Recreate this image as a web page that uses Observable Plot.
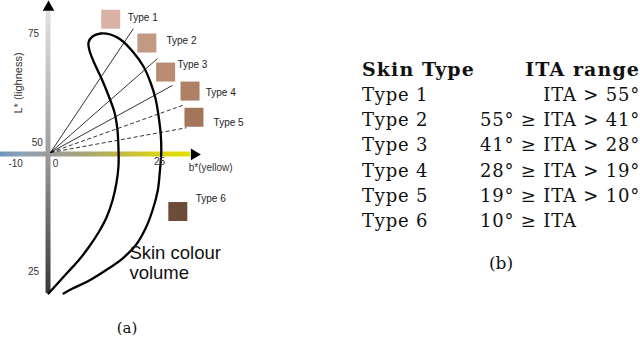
<!DOCTYPE html>
<html>
<head>
<meta charset="utf-8">
<script src="https://cdn.jsdelivr.net/npm/d3@7"></script>
<script src="https://cdn.jsdelivr.net/npm/@observablehq/plot@0.6"></script>
<style>
  body { margin: 0; background: #fff; }
  #wrap { position: relative; width: 640px; height: 341px; overflow: hidden; background: #fff; }
  #chart { position: absolute; left: 0; top: 0; }
  .serif { font-family: "DejaVu Serif", "Liberation Serif", serif; color: #111; }
  .cell { position: absolute; white-space: pre; font-size: 18px; height: 24px; line-height: 24px; letter-spacing: 0.8px; }
  .cell.head { font-size: 19px; letter-spacing: 1.1px; font-weight: bold; }
  .cap { position: absolute; transform: translate(-50%, -50%); white-space: nowrap; }
</style>
</head>
<body>
<div id="wrap">
  <div id="chart"></div>
  <div id="capA" class="cap serif" style="left:127px; top:328px; font-size:15px;">(a)</div>
  <div id="table" class="serif"></div>
  <div id="capB" class="cap serif" style="left:501px; top:263px; font-size:17px;">(b)</div>
</div>
<script>
// ---------- data ----------
const skinTypes = ["Type 1", "Type 2", "Type 3", "Type 4", "Type 5", "Type 6"];
const swatchColors = ["#d8b1a7", "#c49983", "#b98b73", "#ae8064", "#a3765b", "#6c4b38"];
const swatchB = [13.8, 22.1, 26.4, 32.0, 32.9, 29.2];
const swatchL = [78.0, 73.0, 66.9, 62.9, 57.4, 37.6];
const labelB = [17.7, 26.6, 29.1, 35.6, 37.4, 33.3];
const labelL = [78.4, 73.5, 68.5, 62.6, 56.3, 40.2];

// ITA boundary thresholds (degrees) and the end points of their rays
const itaThresholds = [55, 41, 28, 19, 10];
const rayEndB = [19.0, 24.5, 28.0, 30.3, 31.2];
const rayEndL = [76.0, 69.7, 64.1, 59.9, 55.2];
const rayDashed = [false, false, false, true, true];

// Skin colour volume outline (b*, L*)
const outlineB = [-0.46, 1.83, 3.9, 6.42, 8.72, 11.01, 12.84, 14.22, 15.14, 15.6, 15.6, 15.37, 14.68, 13.3, 11.7, 10.09, 8.94, 8.72, 9.63, 11.47, 13.76, 16.06, 19.04, 21.33, 22.94, 24.08, 24.77, 25.3, 25.4, 25.1, 24.6, 23.39, 21.79, 19.5, 16.51, 12.61, 8.49, 5.05, 3.0];
const outlineL = [20.38, 22.69, 24.79, 27.31, 30.04, 33.19, 36.34, 39.92, 43.7, 47.27, 50.42, 54.62, 58.4, 61.97, 65.55, 68.7, 71.43, 73.11, 74.37, 75.0, 74.79, 73.74, 71.01, 68.07, 64.71, 61.34, 57.77, 53.57, 50.0, 46.22, 42.02, 37.82, 34.03, 30.46, 27.73, 25.21, 22.9, 21.43, 20.38];

// axes
const originB = 0, originL = 50;
const hAxis = {L: 49.7, b1: -11.5, b2: 32.1};
const vAxis = {b: -0.57, L1: 20.4, L2: 80.0};
const arrowUp = {b: -0.46, L: 80.5};
const arrowRight = {b: 32.96, L: 49.6};

const yTicks = [75, 50, 25];
const yTickLabelB = [-3.9, -3.05, -3.9];
const yTickLabelL = [75.0, 51.95, 25.0];
const xTicks = ["-10", "0", "25"];
const xTickLabelB = [-8.0, 1.15, 25.0];
const xTickLabelL = [47.7, 47.7, 48.1];

const volumeLabel = "Skin colour\nvolume";

// table
const itaUpper = [null, 55, 41, 28, 19, 10];
const itaLower = [55, 41, 28, 19, 10, null];

// ---------- build ----------
const skin = skinTypes.map((t, i) => ({type: t, color: swatchColors[i], b: swatchB[i], L: swatchL[i], lb: labelB[i], lL: labelL[i]}));
const rays = itaThresholds.map((a, i) => ({ita: a, b1: originB, L1: originL, b2: rayEndB[i], L2: rayEndL[i], dashed: rayDashed[i]}));
const outline = outlineB.map((b, i) => ({b, L: outlineL[i]}));
const yLab = yTicks.map((t, i) => ({t: String(t), b: yTickLabelB[i], L: yTickLabelL[i]}));
const xLab = xTicks.map((t, i) => ({t, b: xTickLabelB[i], L: xTickLabelL[i]}));

const W = 250, H = 300;
const plot = Plot.plot({
  width: W, height: H,
  margin: 0,
  style: {background: "transparent", fontFamily: "'Liberation Sans', Arial, sans-serif", overflow: "visible"},
  x: {domain: [-11.47, 45.87], axis: null},
  y: {domain: [18.91, 81.93], axis: null},
  marks: [
    Plot.ruleY([hAxis], {y: "L", x1: "b1", x2: "b2", stroke: "url(#gradB)", strokeWidth: 5}),
    Plot.ruleX([vAxis], {x: "b", y1: "L1", y2: "L2", stroke: "url(#gradL)", strokeWidth: 5}),
    Plot.dot([arrowUp], {x: "b", y: "L", symbol: "triangle", r: 4.3, fill: "black", stroke: "none"}),
    Plot.dot([arrowRight], {x: "b", y: "L", symbol: "triangle", r: 4.3, fill: "black", stroke: "none", rotate: 90}),
    Plot.link(rays.filter(d => !d.dashed), {x1: "b1", y1: "L1", x2: "b2", y2: "L2", stroke: "black", strokeWidth: 0.8}),
    Plot.link(rays.filter(d => d.dashed), {x1: "b1", y1: "L1", x2: "b2", y2: "L2", stroke: "black", strokeWidth: 0.8, strokeDasharray: "4,2.5"}),
    Plot.line(outline, {x: "b", y: "L", curve: "catmull-rom", stroke: "black", strokeWidth: 2.3}),
    Plot.dot(skin, {x: "b", y: "L", symbol: "square", r: 10.72, fill: "color", stroke: "none"}),
    Plot.text(skin, {x: "lb", y: "lL", text: "type", textAnchor: "start", fontSize: 10, fill: "#222"}),
    Plot.text(yLab, {x: "b", y: "L", text: "t", fontSize: 10, fill: "#333"}),
    Plot.text(xLab, {x: "b", y: "L", text: "t", fontSize: 10, fill: "#333"}),
    Plot.text(["b*(yellow)"], {x: 31.7, y: 46.8, textAnchor: "start", fontSize: 10, fill: "#333"}),
    Plot.text(["L* (lighness)"], {x: -7.45, y: 64.6, rotate: -90, fontSize: 11, fill: "#333"}),
    Plot.text([volumeLabel], {x: 18.1, y: 26.9, textAnchor: "start", fontSize: 18.5, lineHeight: 1.06, fill: "#111"})
  ]
});

// gradients for the two colour axes, placed with the plot's own scales
const xs = plot.scale("x"), ys = plot.scale("y");
const sx = d3.scaleLinear(xs.domain, xs.range), sy = d3.scaleLinear(ys.domain, ys.range);
const defs = d3.create("svg:defs");
const gB = defs.append("linearGradient").attr("id", "gradB").attr("gradientUnits", "userSpaceOnUse")
  .attr("x1", sx(hAxis.b1)).attr("x2", sx(hAxis.b2)).attr("y1", 0).attr("y2", 0);
[[0, "#6f96c2"], [0.12, "#8ea3b6"], [0.26, "#9c9c9c"], [0.45, "#a8a476"], [0.62, "#bfb744"], [0.82, "#d8d21a"], [1, "#e4e200"]]
  .forEach(([o, c]) => gB.append("stop").attr("offset", o).attr("stop-color", c));
const gL = defs.append("linearGradient").attr("id", "gradL").attr("gradientUnits", "userSpaceOnUse")
  .attr("x1", 0).attr("x2", 0).attr("y1", sy(vAxis.L2)).attr("y2", sy(vAxis.L1));
[[0, "#e2e2e2"], [0.5, "#9e9e9e"], [1, "#383838"]]
  .forEach(([o, c]) => gL.append("stop").attr("offset", o).attr("stop-color", c));
plot.insertBefore(defs.node(), plot.firstChild);
document.getElementById("chart").appendChild(plot);

// ---------- table ----------
const table = document.getElementById("table");
const colX = 362, col2L = 460, col2R = 640;
const headerY = 69, rowY0 = 95, rowStep = 25.2;
function addCell(html, top, left, width, align, head) {
  const d = document.createElement("div");
  d.className = head ? "cell head" : "cell";
  d.style.top = (top - 12) + "px";
  d.style.left = left + "px";
  if (width) d.style.width = width + "px";
  d.style.textAlign = align;
  d.innerHTML = html;
  table.appendChild(d);
}
addCell("Skin Type", headerY, colX, null, "left", true);
addCell("ITA range", headerY, col2L, col2R - col2L, "right", true);
skinTypes.forEach((t, i) => {
  const y = rowY0 + i * rowStep;
  addCell(t, y, colX, null, "left", false);
  const up = itaUpper[i], lo = itaLower[i];
  let s = "";
  if (up != null) s += up + "° ≥ ";
  s += "ITA";
  if (lo != null) s += " &gt; " + lo + "°";
  else s += '<span style="visibility:hidden"> &gt; 10°</span>';
  addCell(s, y, col2L, col2R - col2L, "right", false);
});
</script>
</body>
</html>
